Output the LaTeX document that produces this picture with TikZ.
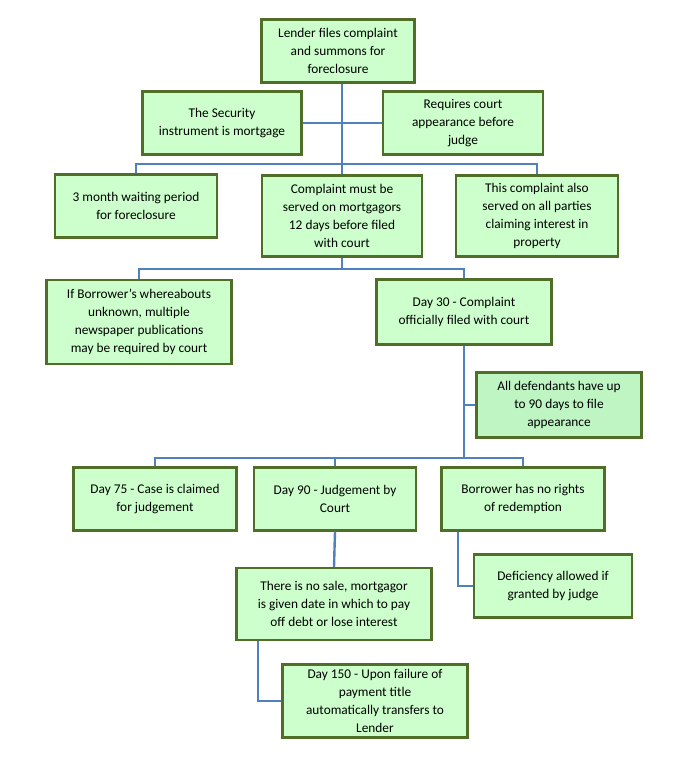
\documentclass[tikz,border=0pt]{standalone}
\usepackage{fontspec}
\setmainfont{Carlito}
\usetikzlibrary{positioning,calc}
\definecolor{boxfill}{RGB}{204,255,204}
\definecolor{boxfilldark}{RGB}{190,245,195}
\definecolor{boxline}{RGB}{80,110,40}
\definecolor{linkblue}{RGB}{79,129,189}
\begin{document}
\begin{tikzpicture}[x=0.75pt,y=-0.75pt,
    box/.style 2 args={draw=boxline, line width=1.6pt, fill=boxfill, align=center,
        inner sep=0pt, minimum width=#1*0.75pt, minimum height=#2*0.75pt,
        font=\fontsize{10}{13.5}\selectfont},
    link/.style={draw=linkblue, line width=1.8pt}]
      \useasboundingbox (0,0) rectangle (677,777);

      \node[box={153}{63}] (lender) at (338,51) {Lender files complaint\\and summons for\\foreclosure};
      \node[box={159}{63}] (security) at (222,123) {The Security\\instrument is mortgage};
      \node[box={160}{63}] (court) at (463,123) {Requires court\\appearance before\\judge};
      \node[box={162}{63}] (waiting) at (136,206) {3 month waiting period\\for foreclosure};
      \node[box={160}{81}] (served) at (342,216) {Complaint must be\\served on mortgagors\\12 days before filed\\with court};
      \node[box={162}{81}] (parties) at (537,216) {This complaint also\\served on all parties\\claiming interest in\\property};
      \node[box={185}{84}] (unknown) at (139,322) {If Borrower's whereabouts\\unknown, multiple\\newspaper publications\\may be required by court};
      \node[box={175}{65}] (day30) at (464,312) {Day 30 - Complaint\\officially filed with court};
      \node[box={165}{65}, fill=boxfilldark] (defend) at (559,405) {All defendants have up\\to 90 days to file\\appearance};
      \node[box={163}{63}] (day75) at (155,499) {Day 75 - Case is claimed\\for judgement};
      \node[box={162}{63}] (day90) at (335,499) {Day 90 - Judgement by\\Court};
      \node[box={163}{63}] (norights) at (523,499) {Borrower has no rights\\of redemption};
      \node[box={158}{63}] (deficiency) at (553,586) {Deficiency allowed if\\granted by judge};
      \node[box={195}{72}] (nosale) at (334,604) {There is no sale, mortgagor\\is given date in which to pay\\off debt or lose interest};
      \node[box={185}{73}] (day150) at (375,701) {Day 150 - Upon failure of\\payment title\\automatically transfers to\\Lender};

      % trunk and first rows
      \draw[link] (lender.south -| served.north) -- (served.north);
      \draw[link] (security.east) -- (court.west);
      \draw[link] (waiting.north) -- (waiting.north |- 0,164) -| (parties.north);
      % second split
      \draw[link] (served.south) -- (served.south |- 0,269);
      \draw[link] (unknown.north) -- (unknown.north |- 0,269) -| (day30.north);
      % day 30 branch
      \draw[link] (day30.south) -- (day30.south |- 0,458);
      \draw[link] (defend.west) -- (defend.west -| day30.south);
      \draw[link] (day75.north) -- (day75.north |- 0,458) -| (norights.north);
      \draw[link] (day90.north) -- (day90.north |- 0,458);
      % lower branches
      \draw[link] (day90.south) -- (nosale.north);
      \draw[link] (norights.south -| 458,0) |- (deficiency.west);
      \draw[link] (nosale.south -| 258,0) |- (day150.west);
\end{tikzpicture}
\end{document}
